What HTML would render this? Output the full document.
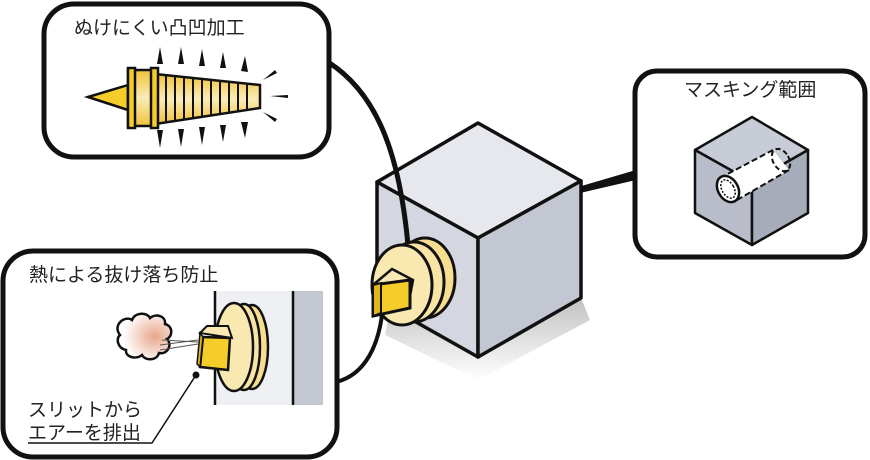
<!DOCTYPE html>
<html><head><meta charset="utf-8"><style>
body{margin:0;background:#fff}
svg{display:block}
text{font-family:"Liberation Sans","Noto Sans CJK JP",sans-serif;font-size:19px;fill:#222}
</style></head><body>
<svg width="870" height="460" viewBox="0 0 870 460" xmlns="http://www.w3.org/2000/svg">
<defs>
<linearGradient id="gy" x1="0" y1="0" x2="0" y2="1"><stop offset="0" stop-color="#f0c23a"/><stop offset="0.5" stop-color="#fbecb8"/><stop offset="1" stop-color="#f0c23a"/></linearGradient>
<radialGradient id="cl" cx="0.7" cy="0.5" r="0.6"><stop offset="0" stop-color="#e9a58a"/><stop offset="1" stop-color="#fff"/></radialGradient>
<linearGradient id="sh" x1="0" y1="0" x2="0" y2="1"><stop offset="0" stop-color="#999"/><stop offset="1" stop-color="#fff"/></linearGradient>
</defs>
<path d="M636,170 L578,187 L580,193 L636,180 Z" fill="#111"/>
<!-- cube shadow -->
<polygon points="390,310 478,357 581,298 590,320 478,380 385,335" fill="url(#sh)" opacity="0.6"/>
<!-- big cube -->
<polygon points="478,123 377,182 478,238 581,181" fill="#e6e8ee" stroke="#111" stroke-width="3.5" stroke-linejoin="round"/>
<polygon points="377,182 478,238 478,357 377,300" fill="#d4d7df" stroke="#111" stroke-width="3.5" stroke-linejoin="round"/>
<polygon points="478,238 581,181 581,298 478,357" fill="#c3c7d2" stroke="#111" stroke-width="3.5" stroke-linejoin="round"/>
<!-- connectors -->
<path d="M328,62 C380,95 400,160 408,245" fill="none" stroke="#111" stroke-width="5"/>
<path d="M383,305 C380,345 365,375 336,382" fill="none" stroke="#111" stroke-width="4"/>
<!-- fitting on cube -->
<ellipse cx="425" cy="278" rx="30" ry="40" fill="#f6dd8f" stroke="#111" stroke-width="3"/>
<ellipse cx="414" cy="282" rx="30" ry="40" fill="#f8e4a4" stroke="#111" stroke-width="3"/>
<ellipse cx="402" cy="285" rx="30" ry="40" fill="#f9e8b0" stroke="#111" stroke-width="3"/>
<polygon points="373,285 392,269 413,280 410,296" fill="#fbe9b4" stroke="#111" stroke-width="2.5"/>
<polygon points="373,285 410,280 410,308 373,316" fill="#f5cd2a" stroke="#111" stroke-width="3"/>
<polygon points="373,285 381,283 381,313 373,316" fill="#e2b51a" stroke="#111" stroke-width="2"/>
<!-- box1 -->
<rect x="44" y="4" width="285" height="153" rx="30" fill="#fff" stroke="#111" stroke-width="5"/>
<text x="74" y="34">ぬけにくい凸凹加工</text>
<polygon points="88,97 128,85 128,110" fill="#f5cd2a" stroke="#111" stroke-width="2.5"/>
<polygon points="155,74 260,85 260,108 155,124" fill="url(#gy)" stroke="#111" stroke-width="2.5"/>
<g stroke="#111" stroke-width="2">
<line x1="166" y1="75" x2="166" y2="123"/><line x1="175" y1="76" x2="175" y2="122"/><line x1="184" y1="77" x2="184" y2="120"/><line x1="193" y1="78" x2="193" y2="119"/><line x1="202" y1="79" x2="202" y2="117"/><line x1="211" y1="80" x2="211" y2="116"/><line x1="220" y1="81" x2="220" y2="114"/><line x1="229" y1="82" x2="229" y2="113"/><line x1="238" y1="83" x2="238" y2="111"/><line x1="247" y1="84" x2="247" y2="110"/>
</g>
<rect x="128" y="70" width="27" height="56" fill="url(#gy)" stroke="#111" stroke-width="2.5"/>
<rect x="128" y="68" width="7" height="60" fill="#f5cd2a" stroke="#111" stroke-width="2.5"/>
<rect x="151" y="68" width="7" height="60" fill="#f5cd2a" stroke="#111" stroke-width="2.5"/>
<g fill="#111">
<polygon points="157,64 160,47 163,64"/><polygon points="178,64 181,47 184,64"/><polygon points="199,66 202,49 205,66"/><polygon points="220,68 223,52 226,68"/><polygon points="241,71 245,56 248,72"/>
<polygon points="157,130 160,148 163,130"/><polygon points="178,129 181,147 184,129"/><polygon points="199,127 202,145 205,127"/><polygon points="220,125 223,142 226,125"/><polygon points="241,122 245,138 248,122"/>
<polygon points="263,80 275,70 277,73"/><polygon points="263,112 275,122 277,119"/><polygon points="270,96 288,95 288,98"/>
</g>
<!-- box2 -->
<rect x="3" y="251" width="334" height="206" rx="30" fill="#fff" stroke="#111" stroke-width="5"/>
<text x="29" y="281">熱による抜け落ち防止</text>
<rect x="215" y="291" width="78" height="114" fill="#eef0f4"/>
<rect x="293" y="291" width="30" height="114" fill="#c3c7d2"/>
<line x1="215" y1="291" x2="215" y2="405" stroke="#111" stroke-width="2.5"/>
<line x1="293" y1="291" x2="293" y2="405" stroke="#111" stroke-width="2.5"/>
<ellipse cx="252" cy="347" rx="16" ry="42" fill="#f6dd8f" stroke="#111" stroke-width="2.5"/>
<ellipse cx="244" cy="347" rx="16" ry="43" fill="#f8e4a4" stroke="#111" stroke-width="2.5"/>
<ellipse cx="234" cy="347" rx="19" ry="44" fill="#f9e8b0" stroke="#111" stroke-width="2.5"/>
<polygon points="200,333 207,326 228,326 232,338" fill="#fbe9b4" stroke="#111" stroke-width="2"/>
<polygon points="203,337 230,338 228,370 200,367" fill="#f5cd2a" stroke="#111" stroke-width="2.5"/>
<path d="M200,333 L203,337 L200,367 L197,364 Z" fill="#e2b51a" stroke="#111" stroke-width="1.5"/>
<path d="M120,335 c-8,-10 5,-20 12,-15 c3,-8 15,-8 18,-2 c6,-5 16,-2 15,6 c8,2 8,12 2,15 c6,6 0,16 -8,14 c-2,8 -14,8 -17,2 c-6,5 -17,2 -16,-5 c-9,-2 -10,-12 -6,-15 Z" fill="url(#cl)" stroke="#111" stroke-width="2.5"/>
<path d="M160,345 L198,340 M160,350 L198,344 M162,340 L198,342" stroke="#555" stroke-width="1"/>
<circle cx="196" cy="375" r="3.5" fill="#111"/>
<path d="M196,375 L152,443 L28,443" fill="none" stroke="#111" stroke-width="1.5"/>
<text x="28" y="416">スリットから</text>
<text x="28" y="439">エアーを排出</text>
<!-- box3 -->
<rect x="635" y="71" width="230" height="186" rx="22" fill="#fff" stroke="#111" stroke-width="5"/>
<text x="684" y="96">マスキング範囲</text>
<polygon points="752,117 695,150 752,182 808,150" fill="#c8ccd6" stroke="#111" stroke-width="2.5" stroke-linejoin="round"/>
<polygon points="695,150 752,182 752,245 695,213" fill="#b9bdca" stroke="#111" stroke-width="2.5" stroke-linejoin="round"/>
<polygon points="752,182 808,150 808,213 752,245" fill="#a7acbb" stroke="#111" stroke-width="2.5" stroke-linejoin="round"/>
<path d="M720,178 L773,150 L789,170 L737,200 Z" fill="#fff"/>
<path d="M720,178 L773,150 M737,200 L789,170" stroke="#111" stroke-width="2" stroke-dasharray="6,3"/>
<ellipse cx="781" cy="160" rx="8" ry="12" transform="rotate(-30 781 160)" fill="none" stroke="#111" stroke-width="2" stroke-dasharray="5,3"/>
<ellipse cx="728" cy="189" rx="10" ry="14" transform="rotate(-30 728 189)" fill="#fff" stroke="#111" stroke-width="2.5"/>
<ellipse cx="728" cy="189" rx="6" ry="10" transform="rotate(-30 728 189)" fill="none" stroke="#111" stroke-width="1.5" stroke-dasharray="2,1.5"/>
</svg>
</body></html>
